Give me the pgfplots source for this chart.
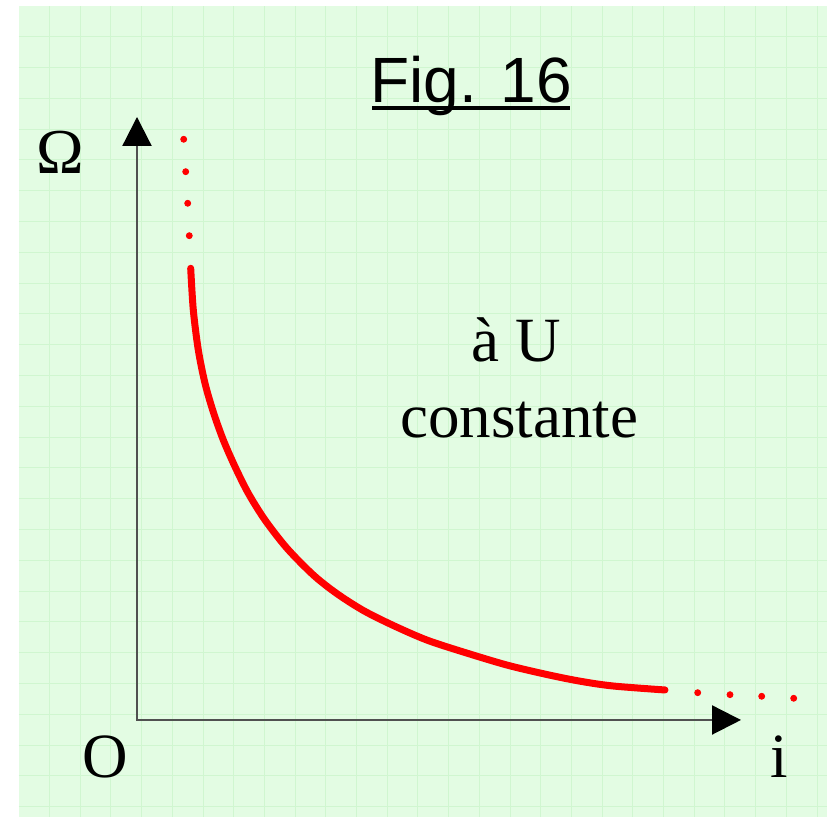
\documentclass[border=0pt]{standalone}
\usepackage{fontspec}
\setmainfont{Liberation Serif}
\newfontfamily\figfont{Liberation Sans}
\usepackage{pgfplots}
\pgfplotsset{compat=1.18}
\usetikzlibrary{arrows.meta}
\definecolor{paper}{HTML}{E3FCE3}
\definecolor{gridgreen}{HTML}{D0F6D0}
\definecolor{axisgray}{HTML}{505050}

\begin{document}
\begin{tikzpicture}
\begin{axis}[
  scale only axis,
  width=404.25pt, height=405.5pt,
  xmin=-118.5, xmax=690, ymin=-97, ymax=714,
  axis background/.style={fill=paper},
  axis line style={draw=none},
  xtick={-87.5,-56.8,...,690},
  ytick={-86.7,-55.9,...,700},
  major tick length=0pt,
  xticklabels={}, yticklabels={},
  grid=major,
  major grid style={gridgreen, line width=0.5pt},
  clip=false,
]
\coordinate (bbtl) at (axis cs:-137,720);
\coordinate (bbbr) at (axis cs:690,-97);

% axes
\draw[axisgray, line width=1.1pt,
  {Triangle[width=14.5pt,length=14.5pt,color=black]}-{Triangle[width=14.5pt,length=14.5pt,color=black]}]
  (axis cs:0,603) -- (axis cs:0,0) -- (axis cs:604,0);

% hyperbola, U constant
\addplot[red, line width=3.5pt, smooth, line cap=round] coordinates {
  (53.7,451.7) (56.3,410) (61.3,370) (68,336.7) (76.3,308)
  (86.3,280) (98,253.3) (111.3,226.7) (128,200) (150,171.7)
  (176.3,145) (199.7,126.5) (226.3,109.5) (256.3,94.5) (289.7,80)
  (326.3,68) (369.7,55) (409.7,45.5) (443,38.8) (476,34) (528,30)
};
% dotted continuations
\addplot[red, only marks, mark=*, mark size=1.5pt] coordinates {
  (46.7,580.7) (48.7,548.3) (50.7,516.7) (52.3,484.3)
};
\addplot[red, only marks, mark=*, mark size=1.5pt] coordinates {
  (560.7,27.3) (593,25.3) (624.7,23.7) (656.7,21.7)
};

\node[anchor=base, inner sep=0pt, font=\fontsize{32}{36}\selectfont] at (axis cs:-77,546) {Ω};
\node[anchor=base, inner sep=0pt, font=\fontsize{31.5}{36}\selectfont] at (axis cs:-32,-58) {O};
\node[anchor=base, inner sep=0pt, font=\fontsize{31.5}{36}\selectfont] at (axis cs:642,-58) {i};
\node[anchor=base, inner sep=0pt, font=\fontsize{31.5}{36}\selectfont] at (axis cs:379,358.3) {à U};
\node[anchor=base, inner sep=0pt, font=\fontsize{31.5}{36}\selectfont] at (axis cs:382,282) {constante};
\node[anchor=base, inner sep=0pt, font=\figfont\fontsize{32}{36}\selectfont] at (axis cs:334,617) {Fig. 16};
\draw[black, line width=2pt] (axis cs:235,612) -- (axis cs:433,612);
\end{axis}
\pgfresetboundingbox
\useasboundingbox (bbtl) rectangle (bbbr);
\end{tikzpicture}
\end{document}
